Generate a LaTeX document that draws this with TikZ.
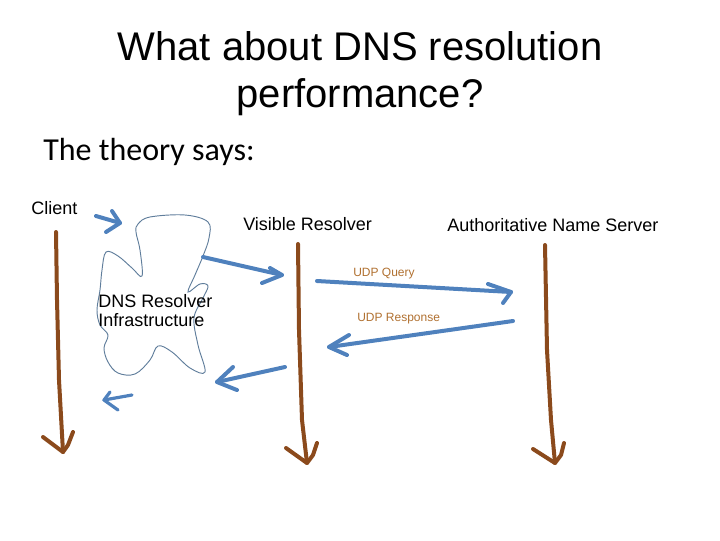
\documentclass[tikz,border=0pt]{standalone}
\usepackage{fontspec}
\setmainfont{Liberation Sans}
\newfontfamily\calib{Carlito}
\definecolor{lifeline}{RGB}{139,74,28}
\definecolor{msgblue}{RGB}{79,129,189}
\definecolor{cloudline}{RGB}{95,125,155}
\definecolor{udptext}{RGB}{176,112,48}
\tikzset{
  txt/.style={inner sep=0pt, anchor=base west},
  lifestroke/.style={draw=lifeline, line width=3pt, line cap=round, line join=round},
  bluestroke/.style={draw=msgblue, line width=3pt, line cap=round, line join=round},
  cloudstroke/.style={draw=cloudline, line width=0.7pt}
}
\begin{document}
\begin{tikzpicture}[x=0.75pt,y=-0.75pt]
\useasboundingbox (0,0) rectangle (720,540);
% title
\node[inner sep=0pt, anchor=base, font=\fontsize{30}{36}\selectfont] (t1) at (360,60) {What about DNS resolution};
\node[inner sep=0pt, anchor=base, font=\fontsize{30}{36}\selectfont] (t2) at (360,107) {performance?};
\node[txt, font=\calib\fontsize{24}{29}\selectfont] (theory) at (43,160) {The theory says:};
% labels
\node[txt, font=\fontsize{13.5}{16}\selectfont] (client) at (31,214) {Client};
\node[txt, font=\fontsize{13.5}{16}\selectfont] (visible) at (243,230) {Visible Resolver};
\node[txt, font=\fontsize{13.5}{16}\selectfont] (auth) at (447,231) {Authoritative Name Server};
\node[txt, font=\fontsize{9}{11}\selectfont, text=udptext] (q) at (353,276) {UDP Query};
\node[txt, font=\fontsize{9}{11}\selectfont, text=udptext] (r) at (357,321) {UDP Response};
% cloud
\draw[cloudstroke] plot[smooth cycle, tension=0.6] coordinates {
 (138,224) (150,217) (185,215) (208,222) (209,238) (203,256) (195,275) (188,292)
 (200,284) (208,286) (203,298) (194,318) (198,345) (205,372) (190,368) (172,352)
 (158,346) (150,360) (135,374) (118,373) (108,362) (104,348) (108,335) (100,325)
 (97,310) (100,290) (102,270) (106,252) (118,256) (132,268) (142,276) (140,250) (136,232)};
\node[txt, font=\fontsize{13.5}{16}\selectfont] (dns1) at (98,307) {DNS Resolver};
\node[txt, font=\fontsize{13.5}{16}\selectfont] (dns2) at (98,326) {Infrastructure};
% lifelines
\coordinate (cTop) at (56,232); \coordinate (cTip) at (63,452);
\coordinate (vTop) at (298,244); \coordinate (vTip) at (307,463);
\coordinate (aTop) at (545,245); \coordinate (aTip) at (555,463);
\draw[lifestroke] (cTop) -- (57,300) -- (59,380) -- (cTip);
\draw[lifestroke] (43,437) -- (cTip) -- (68,445) -- (73,432);
\draw[lifestroke] (vTop) -- (299,330) -- (302,420) -- (vTip);
\draw[lifestroke] (286,448) -- (vTip) -- (313,455) -- (317,443);
\draw[lifestroke] (aTop) -- (547,350) -- (551,420) -- (aTip);
\draw[lifestroke] (533,449) -- (aTip) -- (561,455) -- (564,443);
% blue messages
\coordinate (m1s) at (96,216); \coordinate (m1t) at (120,223);
\draw[bluestroke] (m1s) -- (m1t);
\draw[bluestroke] (112,211) -- (m1t) -- (106,232);
\coordinate (m2s) at (203,257); \coordinate (m2t) at (282,275);
\draw[bluestroke] (m2s) -- (m2t);
\draw[bluestroke] (270,268) -- (m2t) -- (262,283);
\coordinate (m3s) at (317,281); \coordinate (m3t) at (511,292);
\draw[bluestroke] (m3s) -- (m3t);
\draw[bluestroke] (488,284) -- (m3t) -- (503,303);
\coordinate (m4s) at (513,321); \coordinate (m4t) at (329,347);
\draw[bluestroke] (m4s) -- (m4t);
\draw[bluestroke] (349,335) -- (m4t) -- (347,355);
\coordinate (m5s) at (285,367); \coordinate (m5t) at (217,382);
\draw[bluestroke] (m5s) -- (m5t);
\draw[bluestroke] (233,367) -- (m5t) -- (237,390);
\coordinate (m6s) at (132,395); \coordinate (m6t) at (104,400);
\draw[bluestroke, line width=2.4pt] (m6s) -- (m6t);
\draw[bluestroke, line width=2.4pt] (110,392) -- (m6t) -- (118,410);
\end{tikzpicture}
\end{document}
